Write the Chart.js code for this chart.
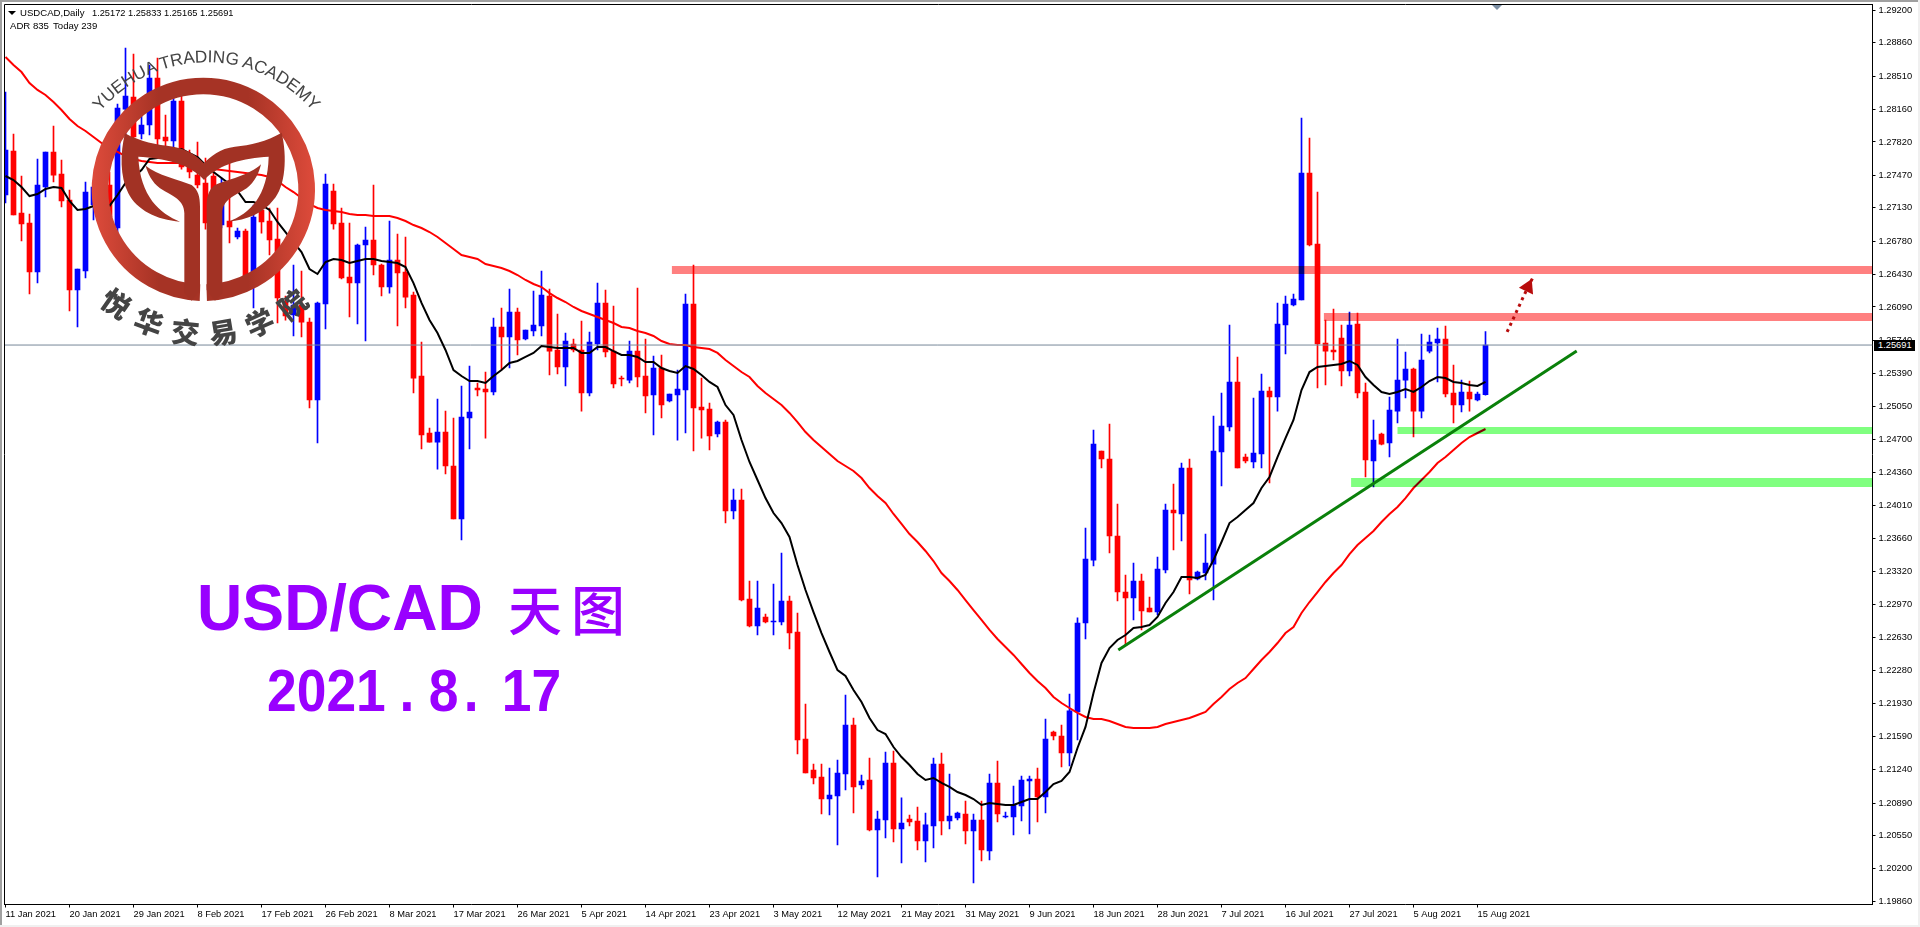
<!DOCTYPE html>
<html>
<head>
<meta charset="utf-8">
<title>USD/CAD</title>
<script src="https://cdn.jsdelivr.net/npm/chart.js@4/dist/chart.umd.min.js"></script>
<style>
html, body { margin: 0; padding: 0; background: #fff; overflow: hidden; }
#wrap { position: relative; width: 1920px; height: 927px; overflow: hidden; background: #fff; }
canvas { position: absolute; left: 0; top: 0; }
.edge { position: absolute; background: #a0a0a0; }
.mt { position: absolute; font: 9.6px "Liberation Sans", sans-serif; color: #000; white-space: pre; line-height: 12px; }
.big { position: absolute; color: #9900ff; font-family: "Liberation Sans", sans-serif; font-weight: bold; white-space: pre; transform-origin: 0 0; }
#logo { position: absolute; left: 0; top: 0; }
</style>
</head>
<body>
<div id="wrap">
<canvas id="c" width="1920" height="927"></canvas>
<div class="edge" style="left:0;top:0;width:1920px;height:2px"></div>
<div class="edge" style="left:0;top:0;width:2px;height:927px"></div>
<div class="edge" style="left:0;top:925px;width:1920px;height:2px;background:#f0f0f0"></div>
<div class="edge" style="left:1918px;top:0;width:2px;height:927px;background:#f0f0f0"></div>

<svg id="logo" width="500" height="400" viewBox="0 0 1500 1200">
  <defs>
    <linearGradient id="rim" gradientUnits="userSpaceOnUse" x1="275" y1="0" x2="945" y2="0">
      <stop offset="0" stop-color="#de4b3b"/>
      <stop offset="0.3" stop-color="#a63325"/>
      <stop offset="0.7" stop-color="#a63325"/>
      <stop offset="1" stop-color="#de4b3b"/>
    </linearGradient>
    <path id="arcTop" d="M300 335 A420 420 0 0 1 940 335"/>
    <path id="arcBottom" d="M284 897 A472 472 0 0 0 946 897"/>
  </defs>
  <path d="M600 877.8 A310 310 0 1 1 620 877.8" fill="none" stroke="url(#rim)" stroke-width="50"/>
  <path fill="#a23224" d="M375 400 C420 425 470 435 520 440 C565 448 595 470 612 490 C630 470 660 445 705 440 C750 435 800 425 845 398 C862 470 857 560 820 600 C790 640 740 660 685 665 C750 640 803 590 806 470 C730 475 660 490 612 540 C570 490 490 475 415 470 C420 590 480 640 540 665 C470 660 410 630 385 580 C360 530 360 460 375 400 Z"/>
  <path fill="#a23224" d="M437 497 C470 525 540 540 575 555 C595 570 600 590 600 620 L600 870 L575 902 L553 880 L553 640 C553 600 520 590 480 565 C455 545 443 520 437 497 Z"/>
  <path fill="#a23224" d="M783 493 C750 525 680 540 645 555 C625 570 620 590 620 620 L620 870 L645 902 L667 880 L667 640 C667 600 700 590 740 565 C765 545 777 520 783 493 Z"/>
  <text font-family="Liberation Sans" font-size="52" fill="#444"><textPath href="#arcTop" textLength="725">YUEHUA TRADING ACADEMY</textPath></text>
  <text font-family="Noto Sans CJK SC" font-weight="900" font-size="85" fill="#444" style="letter-spacing:37px"><textPath href="#arcBottom" startOffset="18">悦华交易学院</textPath></text>
</svg>

<div style="position:absolute;left:8px;top:11px;width:0;height:0;border-left:4px solid transparent;border-right:4px solid transparent;border-top:4px solid #000"></div>
<div class="mt" style="left:20px;top:7px">USDCAD,Daily</div>
<div class="mt" style="left:92px;top:7px;font-size:9.25px">1.25172 1.25833 1.25165 1.25691</div>
<div class="mt" style="left:10px;top:20px">ADR 835</div>
<div class="mt" style="left:53px;top:20px">Today 239</div>

<div style="position:absolute;left:1492px;top:5px;width:10px;height:5px;background:#7b8ea3;clip-path:polygon(0 0,100% 0,50% 100%)"></div>
<div class="mt" style="left:1874px;top:340px;width:37px;height:11px;padding-left:4px;background:#000;color:#fff;line-height:11px;font-size:9.3px">1.25691</div>

<div class="big" style="left:197px;top:575px;font-size:65px;line-height:65px;transform:scaleX(.965)">USD/CAD</div>
<div class="big" style="left:508px;top:581px;font-family:'Noto Sans CJK SC';font-weight:500;font-size:54px;line-height:54px;letter-spacing:9px">天图</div>
<div class="big" style="left:267px;top:661px;font-size:60px;line-height:60px;transform:scaleX(.89)">2021<span style="margin-left:15.5px">.</span><span style="margin-left:16px">8</span><span style="margin-left:6px">.</span><span style="margin-left:26px">17</span></div>
</div>

<script>
const dateLabels = ['11 Jan 2021','20 Jan 2021','29 Jan 2021','8 Feb 2021','17 Feb 2021','26 Feb 2021','8 Mar 2021','17 Mar 2021','26 Mar 2021','5 Apr 2021','14 Apr 2021','23 Apr 2021','3 May 2021','12 May 2021','21 May 2021','31 May 2021','9 Jun 2021','18 Jun 2021','28 Jun 2021','7 Jul 2021','16 Jul 2021','27 Jul 2021','5 Aug 2021','15 Aug 2021'];
const barsPerLabel = 8;

const priceTicks = [1.29200,1.28860,1.28510,1.28160,1.27820,1.27470,1.27130,1.26780,1.26430,1.26090,1.25740,1.25390,1.25050,1.24700,1.24360,1.24010,1.23660,1.23320,1.22970,1.22630,1.22280,1.21930,1.21590,1.21240,1.20890,1.20550,1.20200,1.19860];

// daily candles
const opens = [
1.27264,1.27725,1.27075,1.26970,1.26457,1.27348,1.27715,1.27484,1.27211,1.26268,
1.26467,1.27159,1.27295,1.27369,1.26918,1.28165,1.28291,1.27903,1.27998,1.28490,
1.27872,1.27830,1.28249,1.27610,1.27473,1.27390,1.27463,1.26949,1.26991,1.26824,
1.26886,1.26446,1.27107,1.26991,1.26803,1.26142,1.26006,1.26111,1.25932,1.25115,
1.26121,1.27306,1.26970,1.26404,1.26341,1.26740,1.26792,1.26530,1.26299,1.26582,
1.26457,1.26215,1.25366,1.24769,1.24674,1.24779,1.24423,1.23867,1.24926,1.25241,
1.25230,1.25199,1.25880,1.25775,1.26037,1.25754,1.25838,1.25891,1.26205,1.25639,
1.25461,1.25702,1.25639,1.25188,1.25702,1.26132,1.25628,1.25345,1.25324,1.25628,
1.25366,1.25167,1.25450,1.25104,1.25167,1.25220,1.26121,1.25041,1.25020,1.24758,
1.24884,1.23951,1.24066,1.23029,1.22746,1.22840,1.22788,1.22788,1.23008,1.22683,
1.21561,1.21236,1.21163,1.20932,1.20964,1.21194,1.21708,1.21079,1.21131,1.20607,
1.20712,1.21309,1.20618,1.20722,1.20701,1.20492,1.20649,1.21299,1.20701,1.20733,
1.20775,1.20597,1.20712,1.20387,1.21100,1.20744,1.20744,1.20859,1.21121,1.21142,
1.20953,1.21634,1.21592,1.21414,1.21844,1.22777,1.23437,1.24580,1.24496,1.23689,
1.23102,1.23039,1.23217,1.22934,1.22892,1.23333,1.23962,1.23920,1.24402,1.23238,
1.23301,1.23395,1.24570,1.24832,1.25304,1.24517,1.24465,1.24549,1.25209,1.25146,
1.25901,1.26111,1.26163,1.27494,1.26750,1.25712,1.25639,1.25765,1.25419,1.25912,
1.25199,1.24475,1.24758,1.24664,1.24999,1.25324,1.25440,1.24999,1.25628,1.25712,
1.25754,1.25188,1.25062,1.25199,1.25115,1.25172];

const closes = [
1.27736,1.27054,1.26960,1.26457,1.27369,1.27715,1.27473,1.27201,1.26268,1.26488,
1.27295,1.27348,1.27138,1.27033,1.28176,1.28302,1.27872,1.27998,1.28490,1.27851,
1.27830,1.28249,1.27557,1.27505,1.27369,1.26970,1.27232,1.27264,1.26928,1.26886,
1.26404,1.27033,1.26981,1.26792,1.26184,1.25995,1.26111,1.25932,1.25115,1.26132,
1.27379,1.26960,1.26394,1.26341,1.26740,1.26792,1.26530,1.26299,1.26582,1.26446,
1.26194,1.25345,1.24748,1.24674,1.24779,1.24423,1.23867,1.24937,1.24989,1.25220,
1.25199,1.25880,1.25775,1.26037,1.25744,1.25849,1.25901,1.26215,1.25628,1.25461,
1.25733,1.25639,1.25188,1.25723,1.26132,1.25618,1.25283,1.25335,1.25628,1.25356,
1.25157,1.25450,1.25062,1.25178,1.25230,1.26121,1.25031,1.25010,1.24737,1.24884,
1.23951,1.24066,1.23018,1.22746,1.22934,1.22788,1.22798,1.23008,1.22672,1.21551,
1.21205,1.21152,1.20932,1.20974,1.21205,1.21708,1.21058,1.21121,1.20607,1.20722,
1.21309,1.20618,1.20680,1.20691,1.20492,1.20660,1.21299,1.20701,1.20754,1.20785,
1.20597,1.20712,1.20397,1.21100,1.20775,1.20754,1.20869,1.21131,1.21142,1.20953,
1.21561,1.21592,1.21414,1.21855,1.22777,1.23448,1.24654,1.24496,1.23689,1.23102,
1.23039,1.23217,1.22903,1.22892,1.23343,1.23962,1.23930,1.24402,1.23228,1.23312,
1.23406,1.24580,1.24842,1.25304,1.24402,1.24475,1.24559,1.25209,1.25146,1.25912,
1.26121,1.26174,1.27494,1.26740,1.25702,1.25628,1.25618,1.25419,1.25901,1.25188,
1.24486,1.24695,1.24653,1.25010,1.25324,1.25440,1.24999,1.25534,1.25723,1.25754,
1.25178,1.25062,1.25199,1.25125,1.25178,1.25691];

const highs = [
1.28344,1.27903,1.27463,1.27065,1.27641,1.27715,1.27987,1.27631,1.27316,1.26488,
1.27400,1.27421,1.27369,1.27505,1.28218,1.28805,1.28742,1.28123,1.28627,1.28700,
1.28102,1.28281,1.28312,1.27736,1.27819,1.27652,1.27526,1.27442,1.27599,1.26918,
1.26907,1.27159,1.27264,1.27128,1.27128,1.26205,1.26530,1.26467,1.25974,1.26142,
1.27484,1.27379,1.27128,1.26970,1.26750,1.26928,1.27369,1.26540,1.26991,1.26855,
1.26824,1.26247,1.25723,1.24821,1.25125,1.24999,1.24926,1.25262,1.25471,1.25293,
1.25408,1.25974,1.26079,1.26278,1.26079,1.25849,1.26257,1.26467,1.26278,1.26016,
1.25817,1.25754,1.25943,1.25828,1.26341,1.26268,1.26100,1.25366,1.25733,1.26289,
1.25754,1.25576,1.25587,1.25178,1.25429,1.26226,1.26530,1.25345,1.25083,1.24895,
1.24905,1.24182,1.24182,1.23217,1.23217,1.22871,1.23186,1.23511,1.23060,1.22882,
1.21928,1.21299,1.21299,1.21257,1.21341,1.22022,1.21781,1.21184,1.21362,1.20806,
1.21425,1.21435,1.20943,1.20764,1.20848,1.20785,1.21362,1.21414,1.21194,1.20796,
1.20911,1.20775,1.20911,1.21194,1.21330,1.20796,1.21068,1.21173,1.21173,1.21257,
1.21771,1.21645,1.21708,1.22033,1.22830,1.23773,1.24800,1.24580,1.24863,1.24025,
1.23280,1.23406,1.23291,1.23050,1.23469,1.24025,1.24234,1.24454,1.24496,1.23322,
1.23710,1.24947,1.25188,1.25901,1.25566,1.24549,1.25136,1.25387,1.25251,1.26132,
1.26205,1.26226,1.28071,1.27861,1.27295,1.25953,1.26069,1.25901,1.26037,1.26027,
1.25293,1.24905,1.24769,1.25146,1.25754,1.25618,1.25450,1.25807,1.25796,1.25870,
1.25891,1.25482,1.25324,1.25314,1.25199,1.25833];

const lows = [
1.27180,1.27054,1.26782,1.26226,1.26341,1.27243,1.27400,1.27138,1.26048,1.25880,
1.26394,1.27002,1.26949,1.26949,1.26844,1.27736,1.27788,1.27851,1.27893,1.27767,
1.27757,1.27757,1.27536,1.27442,1.27337,1.26907,1.27159,1.26918,1.26761,1.26803,
1.26383,1.26079,1.26865,1.26635,1.25922,1.25953,1.25786,1.25775,1.25031,1.24664,
1.25859,1.26907,1.26383,1.25985,1.25912,1.25733,1.26425,1.26205,1.26236,1.25891,
1.26079,1.25188,1.24601,1.24674,1.24391,1.24339,1.23867,1.23647,1.24601,1.25157,
1.24716,1.25167,1.25429,1.25450,1.25587,1.25744,1.25786,1.25786,1.25377,1.25387,
1.25262,1.25618,1.24999,1.25157,1.25639,1.25566,1.25241,1.25262,1.25293,1.25251,
1.24979,1.24748,1.24926,1.25094,1.24695,1.24769,1.24580,1.24716,1.24591,1.24727,
1.23825,1.23867,1.23008,1.22735,1.22651,1.22777,1.22651,1.22756,1.22505,1.21404,
1.21205,1.21089,1.20775,1.20764,1.20450,1.21026,1.20785,1.21037,1.20597,1.20114,
1.20523,1.20481,1.20261,1.20649,1.20397,1.20272,1.20418,1.20555,1.20618,1.20712,
1.20460,1.20051,1.20282,1.20293,1.20691,1.20733,1.20555,1.20701,1.20565,1.20691,
1.20785,1.21551,1.21267,1.21278,1.21551,1.22609,1.23375,1.24402,1.23511,1.23008,
1.22546,1.22809,1.22704,1.22892,1.22861,1.23301,1.23542,1.23637,1.23081,1.23228,
1.23228,1.23018,1.24213,1.24790,1.24402,1.24454,1.24402,1.24402,1.24245,1.24999,
1.25597,1.26100,1.26163,1.26729,1.25241,1.25272,1.25534,1.25262,1.25366,1.25136,
1.24308,1.24203,1.24643,1.24517,1.24874,1.25136,1.24727,1.24926,1.25608,1.25304,
1.25146,1.24874,1.24989,1.24999,1.25104,1.25165];

// moving averages, one reading per bar
const fastMA = [
1.27463,1.27421,1.27348,1.27253,1.27274,1.27327,1.27348,1.27337,1.27201,1.27107,
1.27117,1.27149,1.27149,1.27149,1.27264,1.27390,1.27453,1.27526,1.27641,1.27652,
1.27683,1.27725,1.27746,1.27704,1.27662,1.27578,1.27505,1.27442,1.27379,1.27306,
1.27190,1.27190,1.27159,1.27107,1.26981,1.26876,1.26771,1.26666,1.26488,1.26436,
1.26561,1.26593,1.26582,1.26551,1.26572,1.26593,1.26593,1.26572,1.26561,1.26551,
1.26509,1.26341,1.26132,1.25953,1.25817,1.25639,1.25429,1.25366,1.25314,1.25314,
1.25293,1.25366,1.25429,1.25503,1.25524,1.25566,1.25608,1.25681,1.25670,1.25660,
1.25660,1.25660,1.25608,1.25608,1.25670,1.25670,1.25628,1.25587,1.25587,1.25566,
1.25513,1.25513,1.25450,1.25419,1.25398,1.25471,1.25440,1.25377,1.25304,1.25251,
1.25062,1.24958,1.24695,1.24465,1.24276,1.24087,1.23930,1.23825,1.23679,1.23385,
1.23123,1.22892,1.22672,1.22473,1.22284,1.22221,1.22075,1.21949,1.21781,1.21655,
1.21613,1.21477,1.21372,1.21288,1.21194,1.21131,1.21152,1.21100,1.21058,1.21005,
1.20974,1.20932,1.20869,1.20890,1.20880,1.20869,1.20869,1.20901,1.20932,1.20932,
1.21005,1.21089,1.21121,1.21215,1.21467,1.21687,1.22043,1.22358,1.22515,1.22599,
1.22651,1.22725,1.22735,1.22756,1.22840,1.22987,1.23102,1.23259,1.23259,1.23249,
1.23280,1.23437,1.23626,1.23825,1.23888,1.23962,1.24035,1.24192,1.24308,1.24517,
1.24716,1.24905,1.25220,1.25408,1.25461,1.25471,1.25482,1.25492,1.25524,1.25482,
1.25356,1.25272,1.25199,1.25178,1.25199,1.25230,1.25199,1.25251,1.25314,1.25356,
1.25345,1.25304,1.25293,1.25272,1.25262,1.25304];

const slowMA = [
1.28710,1.28627,1.28553,1.28438,1.28365,1.28312,1.28239,1.28155,1.28061,1.27987,
1.27935,1.27872,1.27809,1.27757,1.27715,1.27673,1.27641,1.27620,1.27610,1.27599,
1.27599,1.27599,1.27599,1.27578,1.27568,1.27547,1.27536,1.27526,1.27515,1.27505,
1.27494,1.27484,1.27473,1.27453,1.27411,1.27348,1.27295,1.27232,1.27169,1.27128,
1.27107,1.27096,1.27086,1.27065,1.27054,1.27054,1.27044,1.27044,1.27044,1.27023,
1.26991,1.26949,1.26918,1.26876,1.26824,1.26761,1.26698,1.26635,1.26614,1.26593,
1.26540,1.26519,1.26498,1.26467,1.26425,1.26373,1.26331,1.26299,1.26236,1.26184,
1.26142,1.26090,1.26048,1.26016,1.25985,1.25953,1.25922,1.25880,1.25870,1.25838,
1.25817,1.25786,1.25733,1.25702,1.25691,1.25691,1.25670,1.25660,1.25649,1.25608,
1.25534,1.25471,1.25408,1.25356,1.25262,1.25188,1.25125,1.25062,1.24979,1.24884,
1.24779,1.24695,1.24622,1.24549,1.24475,1.24423,1.24371,1.24297,1.24192,1.24108,
1.24035,1.23920,1.23815,1.23710,1.23626,1.23532,1.23427,1.23301,1.23217,1.23123,
1.23018,1.22913,1.22809,1.22704,1.22609,1.22525,1.22442,1.22347,1.22253,1.22169,
1.22096,1.22001,1.21938,1.21886,1.21834,1.21792,1.21771,1.21771,1.21750,1.21718,
1.21687,1.21676,1.21676,1.21676,1.21687,1.21718,1.21739,1.21760,1.21781,1.21812,
1.21844,1.21928,1.22001,1.22085,1.22148,1.22200,1.22295,1.22389,1.22473,1.22567,
1.22672,1.22735,1.22882,1.22997,1.23102,1.23207,1.23301,1.23385,1.23500,1.23595,
1.23668,1.23742,1.23836,1.23920,1.23993,1.24087,1.24192,1.24276,1.24360,1.24454,
1.24517,1.24591,1.24664,1.24727,1.24769,1.24811];

// drawn levels and lines, in bar number and price
const resistStart = [83.3, 164.8];
const resistPrice = [1.26478, 1.25985];
const supportStart = [174, 168.2];
const supportPrice = [1.24795, 1.24250];
const levelEnd = 233.4;
const trendBars = [139.1, 196.4];
const trendPrices = [1.22494, 1.25628];
const arrowBars = [187.7, 190.3, 190.9];
const arrowPrices = [1.25828, 1.26299, 1.26394];

const UP = '#0000ff', DOWN = '#ff0000';
const candleColors = closes.map((c, i) => c >= opens[i] ? UP : DOWN);
const pairs = (xs, ys) => xs.map((x, i) => ({x: x, y: ys[i]}));
const bars = closes.map((c, i) => i);

function levelSet(start, price, color, width) {
    return {
        type: 'line', order: 2, multiply: true,
        data: [{x: start, y: price}, {x: levelEnd, y: price}],
        borderColor: color, borderWidth: width, pointRadius: 0
    };
}

const blendPlugin = {
    id: 'blend',
    beforeDatasetDraw(chart, args) {
        if (chart.data.datasets[args.index].multiply) {
            chart.ctx.save();
            chart.ctx.globalCompositeOperation = 'multiply';
        }
    },
    afterDatasetDraw(chart, args) {
        if (chart.data.datasets[args.index].multiply) chart.ctx.restore();
    }
};

// left and top sides of the frame, the axes draw the other two
const framePlugin = {
    id: 'frame',
    afterDatasetsDraw(chart) {
        const {ctx, chartArea: a} = chart;
        ctx.save();
        ctx.strokeStyle = '#000';
        ctx.lineWidth = 1;
        ctx.beginPath();
        ctx.moveTo(a.left, a.bottom);
        ctx.lineTo(a.left, a.top);
        ctx.lineTo(a.right, a.top);
        ctx.stroke();
        ctx.restore();
    }
};

new Chart(document.getElementById('c').getContext('2d'), {
    type: 'bar',
    plugins: [blendPlugin, framePlugin],
    data: {
        datasets: [
            {
                label: 'wick', order: 6, grouped: false, barThickness: 1,
                data: bars.map(i => ({x: i, y: [lows[i], highs[i]]})),
                backgroundColor: candleColors
            },
            {
                label: 'body', order: 5, grouped: false, barThickness: 5,
                data: bars.map(i => ({x: i, y: [opens[i], closes[i]]})),
                backgroundColor: candleColors
            },
            {
                type: 'line', label: 'slow', order: 4,
                data: pairs(bars, slowMA),
                borderColor: '#ff0000', borderWidth: 2, pointRadius: 0
            },
            {
                type: 'line', label: 'fast', order: 3,
                data: pairs(bars, fastMA),
                borderColor: '#000000', borderWidth: 2, pointRadius: 0
            },
            {
                type: 'line', label: 'last', order: 3,
                data: [{x: -1, y: closes[closes.length - 1]}, {x: levelEnd, y: closes[closes.length - 1]}],
                borderColor: '#778899', borderWidth: 1, pointRadius: 0
            },
            levelSet(resistStart[0], resistPrice[0], '#ff8080', 8),
            levelSet(resistStart[1], resistPrice[1], '#ff8080', 8),
            levelSet(supportStart[0], supportPrice[0], '#80ff80', 7),
            levelSet(supportStart[1], supportPrice[1], '#80ff80', 9),
            {
                type: 'line', label: 'trend', order: 1,
                data: pairs(trendBars, trendPrices),
                borderColor: '#0a800a', borderWidth: 3, pointRadius: 0
            },
            {
                type: 'line', label: 'arrow', order: 0,
                data: pairs(arrowBars, arrowPrices),
                borderColor: '#b80c0c', borderWidth: 3, borderDash: [3, 4],
                pointRadius: [0, 9, 0], pointStyle: 'triangle', pointRotation: 25,
                pointBackgroundColor: '#b80c0c', pointBorderWidth: 0
            }
        ]
    },
    options: {
        responsive: false,
        animation: false,
        events: [],
        layout: {padding: {left: 4.5, top: 4.5, right: 0, bottom: 0}},
        plugins: {legend: {display: false}, title: {display: false}, tooltip: {enabled: false}},
        scales: {
            x: {
                type: 'linear', offset: false, min: -0.125, max: 233.375, bounds: 'data',
                grid: {display: true, offset: false, drawOnChartArea: false, drawTicks: true, tickLength: 3, color: '#000'},
                border: {display: true, color: '#000', width: 1},
                ticks: {
                    autoSkip: false, maxRotation: 0, align: 'start', padding: 1,
                    color: '#000', font: {family: 'Liberation Sans', size: 9.3},
                    callback: (v, i) => dateLabels[i]
                },
                afterBuildTicks: s => { s.ticks = dateLabels.map((d, i) => ({value: i * barsPerLabel})); },
                afterFit: s => { s.height = 22.5; s.paddingLeft = 0; s.paddingRight = 0; }
            },
            y: {
                type: 'linear', position: 'right', min: 1.19826, max: 1.29261, bounds: 'data',
                grid: {display: true, drawOnChartArea: false, drawTicks: true, tickLength: 3, color: '#000'},
                border: {display: true, color: '#000', width: 1},
                ticks: {
                    autoSkip: false, padding: 3, color: '#000', font: {family: 'Liberation Sans', size: 9.3},
                    callback: v => v.toFixed(5)
                },
                afterBuildTicks: s => { s.ticks = priceTicks.map(p => ({value: p})); },
                afterFit: s => { s.width = 47.5; s.paddingTop = 0; s.paddingBottom = 0; }
            }
        }
    }
});
</script>
</body>
</html>
